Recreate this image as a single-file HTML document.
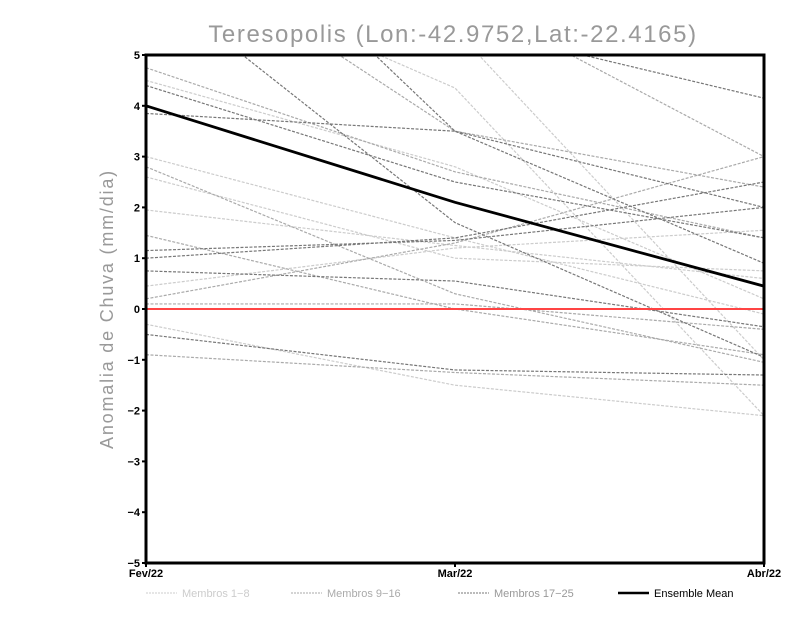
<!DOCTYPE html>
<html><head><meta charset="utf-8"><style>
body{margin:0;background:#fff;width:800px;height:618px;overflow:hidden}
svg text{font-family:"Liberation Sans",sans-serif}
</style></head><body>
<svg width="800" height="618">
<defs><clipPath id="pc"><rect x="146" y="55" width="618" height="508"/></clipPath></defs>
<text x="453" y="42" text-anchor="middle" font-size="24" fill="#999" letter-spacing="1.6">Teresopolis (Lon:-42.9752,Lat:-22.4165)</text>
<text transform="translate(113,309) rotate(-90)" text-anchor="middle" font-size="18" fill="#999" letter-spacing="1.8">Anomalia de Chuva (mm/dia)</text>
<g id="lines" clip-path="url(#pc)"></g>
<g id="axes"></g>
<g id="legend">
<line x1="146" y1="593" x2="177" y2="593" stroke="#ccc" stroke-dasharray="2,1"/>
<text x="182" y="597" font-size="11" fill="#ccc">Membros 1−8</text>
<line x1="291" y1="593" x2="322" y2="593" stroke="#aaa" stroke-dasharray="2,1"/>
<text x="327" y="597" font-size="11" fill="#aaa">Membros 9−16</text>
<line x1="458" y1="593" x2="489" y2="593" stroke="#777" stroke-dasharray="2,1"/>
<text x="494" y="597" font-size="11" fill="#999">Membros 17−25</text>
<line x1="618" y1="593" x2="649" y2="593" stroke="#000" stroke-width="2.5"/>
<text x="654" y="597" font-size="11" fill="#000">Ensemble Mean</text>
</g>
</svg>
<script>
const categories=["Fev/22","Mar/22","Abr/22"];
const yTicks=[-5,-4,-3,-2,-1,0,1,2,3,4,5];
const ensembleMean=[4.0,2.1,0.45];
const light=[[4.5,2.8,0.2],[3.0,1.4,-0.1],[1.95,1.25,0.6],[0.45,1.2,1.55],[-0.3,-1.5,-2.1],[7,4.35,-2.1],[2.6,1.0,0.75],[6.5,5.5,-1.0]];
const mid=[[4.75,2.7,1.4],[0.2,1.3,3.0],[0.1,0.1,-0.4],[-0.9,-1.25,-1.5],[2.8,0.3,-1.05],[1.45,0.0,-0.9],[7.5,3.5,2.4],[9,6.2,3.0]];
const dark=[[4.4,2.5,1.4],[3.85,3.5,2.0],[1.0,1.4,2.5],[1.15,1.35,2.0],[0.75,0.55,-0.35],[-0.5,-1.2,-1.3],[9.3,3.5,0.9],[8,5.6,4.15],[6.5,1.7,-0.95]];
const X0=146,X1=764,Y0=563,Y1=55,ymin=-5,ymax=5;
const xs=i=>X0+(X1-X0)*i/(categories.length-1);
const ys=v=>Y0-(v-ymin)/(ymax-ymin)*(Y0-Y1);
const NS="http://www.w3.org/2000/svg";
const G=document.getElementById('lines'),A=document.getElementById('axes');
function mk(t,a,p){const e=document.createElementNS(NS,t);for(const k in a)e.setAttribute(k,a[k]);p.appendChild(e);return e;}
function pts(s){return s.map((v,i)=>xs(i)+','+ys(v)).join(' ');}
light.forEach((s,i)=>{const e=mk('polyline',{points:pts(s),fill:'none',stroke:'#ccc','stroke-width':1.2,'stroke-dasharray':'3,1.5'},G);

});
mid.forEach((s,i)=>{const e=mk('polyline',{points:pts(s),fill:'none',stroke:'#aaa','stroke-width':1.2,'stroke-dasharray':'3,1.5'},G);

});
dark.forEach((s,i)=>{const e=mk('polyline',{points:pts(s),fill:'none',stroke:'#777','stroke-width':1.2,'stroke-dasharray':'3,1.5'},G);

});
const z=mk('line',{x1:X0,x2:X1,y1:ys(0),y2:ys(0),stroke:'#f44','stroke-width':2},G);


const m=mk('polyline',{points:pts(ensembleMean),fill:'none',stroke:'#000','stroke-width':2.8},G);


const fr=mk('rect',{x:X0,y:Y1,width:X1-X0,height:Y0-Y1,fill:'none',stroke:'#000','stroke-width':3},A);


yTicks.forEach(v=>{mk('line',{x1:X0-4,x2:X0,y1:ys(v),y2:ys(v),stroke:'#000','stroke-width':2},A);
const t=mk('text',{x:X0-6,y:ys(v)+4,'text-anchor':'end','font-size':11,'font-weight':'bold'},A);t.textContent=String(v).replace('-','−');

});
categories.forEach((c,i)=>{mk('line',{x1:xs(i),x2:xs(i),y1:Y0,y2:Y0+4,stroke:'#000','stroke-width':2},A);
const t=mk('text',{x:xs(i),y:Y0+14,'text-anchor':'middle','font-size':11,'font-weight':'bold'},A);t.textContent=c;

});
</script>
</body></html>
